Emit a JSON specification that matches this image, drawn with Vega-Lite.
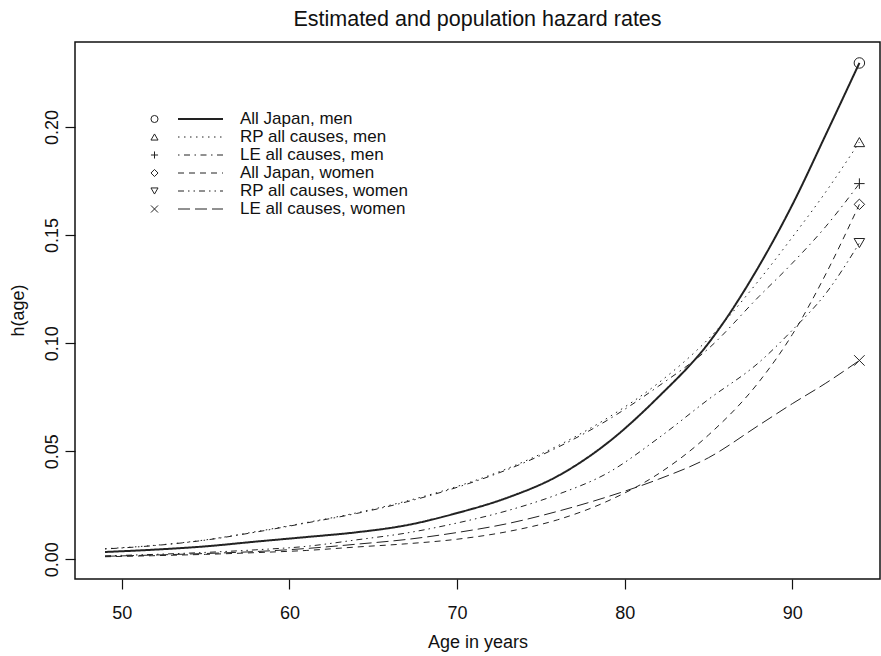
{
  "$schema": "https://vega.github.io/schema/vega-lite/v6.json",
  "width": 805,
  "height": 537,
  "autosize": {"type": "none"},
  "padding": {"left": 75, "top": 42, "right": 1, "bottom": 77},
  "background": "white",
  "config": {
    "font": "Liberation Sans",
    "view": {"stroke": "#111111", "strokeWidth": 1.5},
    "axis": {"grid": false, "domain": false, "tickColor": "#111111", "tickWidth": 1.2, "labelColor": "#111111", "titleColor": "#111111", "labelFontSize": 18, "titleFontSize": 18, "titleFontWeight": "normal"}
  },
  "title": {"text": "Estimated and population hazard rates", "fontSize": 21.5, "fontWeight": "normal", "color": "#111111", "baseline": "alphabetic", "offset": 16, "dy": 21, "anchor": "middle"},
  "data": {"values": [
    {"series": "All Japan, men", "age": 49, "h": 0.0034}, {"series": "All Japan, men", "age": 52, "h": 0.0045}, {"series": "All Japan, men", "age": 55, "h": 0.0060}, {"series": "All Japan, men", "age": 58, "h": 0.0082}, {"series": "All Japan, men", "age": 61, "h": 0.0103}, {"series": "All Japan, men", "age": 64, "h": 0.0125}, {"series": "All Japan, men", "age": 67, "h": 0.0158}, {"series": "All Japan, men", "age": 70, "h": 0.0214}, {"series": "All Japan, men", "age": 73, "h": 0.0285}, {"series": "All Japan, men", "age": 76, "h": 0.0385}, {"series": "All Japan, men", "age": 79, "h": 0.0540}, {"series": "All Japan, men", "age": 82, "h": 0.0750}, {"series": "All Japan, men", "age": 85, "h": 0.1000}, {"series": "All Japan, men", "age": 88, "h": 0.1355}, {"series": "All Japan, men", "age": 90, "h": 0.1640}, {"series": "All Japan, men", "age": 92, "h": 0.1965}, {"series": "All Japan, men", "age": 94, "h": 0.2296},
    {"series": "RP all causes, men", "age": 49, "h": 0.0049}, {"series": "RP all causes, men", "age": 52, "h": 0.0065}, {"series": "RP all causes, men", "age": 55, "h": 0.0090}, {"series": "RP all causes, men", "age": 58, "h": 0.0128}, {"series": "RP all causes, men", "age": 61, "h": 0.0170}, {"series": "RP all causes, men", "age": 64, "h": 0.0215}, {"series": "RP all causes, men", "age": 67, "h": 0.0270}, {"series": "RP all causes, men", "age": 70, "h": 0.0337}, {"series": "RP all causes, men", "age": 73, "h": 0.0420}, {"series": "RP all causes, men", "age": 76, "h": 0.0525}, {"series": "RP all causes, men", "age": 79, "h": 0.0655}, {"series": "RP all causes, men", "age": 82, "h": 0.0815}, {"series": "RP all causes, men", "age": 85, "h": 0.1020}, {"series": "RP all causes, men", "age": 88, "h": 0.1290}, {"series": "RP all causes, men", "age": 90, "h": 0.1490}, {"series": "RP all causes, men", "age": 92, "h": 0.1700}, {"series": "RP all causes, men", "age": 94, "h": 0.1930},
    {"series": "LE all causes, men", "age": 49, "h": 0.0048}, {"series": "LE all causes, men", "age": 52, "h": 0.0064}, {"series": "LE all causes, men", "age": 55, "h": 0.0089}, {"series": "LE all causes, men", "age": 58, "h": 0.0126}, {"series": "LE all causes, men", "age": 61, "h": 0.0168}, {"series": "LE all causes, men", "age": 64, "h": 0.0212}, {"series": "LE all causes, men", "age": 67, "h": 0.0266}, {"series": "LE all causes, men", "age": 70, "h": 0.0333}, {"series": "LE all causes, men", "age": 73, "h": 0.0415}, {"series": "LE all causes, men", "age": 76, "h": 0.0518}, {"series": "LE all causes, men", "age": 79, "h": 0.0645}, {"series": "LE all causes, men", "age": 82, "h": 0.0800}, {"series": "LE all causes, men", "age": 85, "h": 0.0975}, {"series": "LE all causes, men", "age": 88, "h": 0.1215}, {"series": "LE all causes, men", "age": 90, "h": 0.1370}, {"series": "LE all causes, men", "age": 92, "h": 0.1540}, {"series": "LE all causes, men", "age": 94, "h": 0.1738},
    {"series": "All Japan, women", "age": 49, "h": 0.0012}, {"series": "All Japan, women", "age": 52, "h": 0.0017}, {"series": "All Japan, women", "age": 55, "h": 0.0023}, {"series": "All Japan, women", "age": 58, "h": 0.0031}, {"series": "All Japan, women", "age": 61, "h": 0.0041}, {"series": "All Japan, women", "age": 64, "h": 0.0057}, {"series": "All Japan, women", "age": 67, "h": 0.0072}, {"series": "All Japan, women", "age": 70, "h": 0.0093}, {"series": "All Japan, women", "age": 73, "h": 0.0128}, {"series": "All Japan, women", "age": 76, "h": 0.0183}, {"series": "All Japan, women", "age": 79, "h": 0.0270}, {"series": "All Japan, women", "age": 82, "h": 0.0395}, {"series": "All Japan, women", "age": 85, "h": 0.0575}, {"series": "All Japan, women", "age": 88, "h": 0.0820}, {"series": "All Japan, women", "age": 90, "h": 0.1040}, {"series": "All Japan, women", "age": 92, "h": 0.1320}, {"series": "All Japan, women", "age": 94, "h": 0.1642},
    {"series": "RP all causes, women", "age": 49, "h": 0.0016}, {"series": "RP all causes, women", "age": 52, "h": 0.0023}, {"series": "RP all causes, women", "age": 55, "h": 0.0032}, {"series": "RP all causes, women", "age": 58, "h": 0.0044}, {"series": "RP all causes, women", "age": 61, "h": 0.0060}, {"series": "RP all causes, women", "age": 64, "h": 0.0090}, {"series": "RP all causes, women", "age": 67, "h": 0.0122}, {"series": "RP all causes, women", "age": 70, "h": 0.0168}, {"series": "RP all causes, women", "age": 73, "h": 0.0225}, {"series": "RP all causes, women", "age": 76, "h": 0.0300}, {"series": "RP all causes, women", "age": 79, "h": 0.0400}, {"series": "RP all causes, women", "age": 82, "h": 0.0560}, {"series": "RP all causes, women", "age": 85, "h": 0.0740}, {"series": "RP all causes, women", "age": 88, "h": 0.0910}, {"series": "RP all causes, women", "age": 90, "h": 0.1060}, {"series": "RP all causes, women", "age": 92, "h": 0.1230}, {"series": "RP all causes, women", "age": 94, "h": 0.1463},
    {"series": "LE all causes, women", "age": 49, "h": 0.0014}, {"series": "LE all causes, women", "age": 52, "h": 0.0020}, {"series": "LE all causes, women", "age": 55, "h": 0.0027}, {"series": "LE all causes, women", "age": 58, "h": 0.0036}, {"series": "LE all causes, women", "age": 61, "h": 0.0050}, {"series": "LE all causes, women", "age": 64, "h": 0.0070}, {"series": "LE all causes, women", "age": 67, "h": 0.0092}, {"series": "LE all causes, women", "age": 70, "h": 0.0124}, {"series": "LE all causes, women", "age": 73, "h": 0.0165}, {"series": "LE all causes, women", "age": 76, "h": 0.0222}, {"series": "LE all causes, women", "age": 79, "h": 0.0290}, {"series": "LE all causes, women", "age": 82, "h": 0.0370}, {"series": "LE all causes, women", "age": 85, "h": 0.0470}, {"series": "LE all causes, women", "age": 88, "h": 0.0620}, {"series": "LE all causes, women", "age": 90, "h": 0.0720}, {"series": "LE all causes, women", "age": 92, "h": 0.0815}, {"series": "LE all causes, women", "age": 94, "h": 0.0920}
  ]},
  "encoding": {
    "x": {"field": "age", "type": "quantitative", "scale": {"domain": [47.21, 95.23], "nice": false, "zero": false},
          "axis": {"values": [50, 60, 70, 80, 90], "tickSize": 10, "labelPadding": 15, "labelBaseline": "top", "title": "Age in years", "titleY": 68, "titleBaseline": "alphabetic"}},
    "y": {"field": "h", "type": "quantitative", "scale": {"domain": [-0.0091, 0.2393], "nice": false, "zero": false},
          "axis": {"values": [0, 0.05, 0.1, 0.15, 0.2], "format": ".2f", "tickSize": 10, "labelAngle": -90, "labelAlign": "center", "labelBaseline": "alphabetic", "labelPadding": 8, "title": "h(age)", "titleX": -57, "titleY": 268, "titleAngle": -90, "titleAlign": "center", "titleBaseline": "middle"}}
  },
  "layer": [
    {
      "mark": {"type": "line", "interpolate": "monotone", "color": "#222222"},
      "encoding": {
        "strokeDash": {"field": "series", "type": "nominal",
          "scale": {"domain": ["All Japan, men", "RP all causes, men", "LE all causes, men", "All Japan, women", "RP all causes, women", "LE all causes, women"],
                    "range": [[1, 0], [1.5, 4.5], [1.5, 4.5, 6, 4.5], [6, 5], [6, 4, 1.5, 4, 1.5, 4], [12, 5]]},
          "legend": {"orient": "none", "legendX": 102, "legendY": 70, "title": null, "symbolType": "stroke", "symbolSize": 2025, "symbolStrokeColor": "#222222", "labelFontSize": 17, "labelColor": "#111111", "labelLimit": 400, "labelOffset": 16, "clipHeight": 14, "rowPadding": 1, "padding": 0}},
        "strokeWidth": {"field": "series", "type": "nominal",
          "scale": {"type": "ordinal", "domain": ["All Japan, men", "RP all causes, men", "LE all causes, men", "All Japan, women", "RP all causes, women", "LE all causes, women"],
                    "range": [2, 1, 1, 1, 1, 1]},
          "legend": {"orient": "none", "legendX": 102, "legendY": 70, "title": null, "symbolType": "stroke", "symbolSize": 2025, "labelFontSize": 17, "labelLimit": 400, "labelOffset": 16, "clipHeight": 14, "rowPadding": 1, "padding": 0}}
      }
    },
    {
      "transform": [{"filter": "datum.age == 94"}],
      "mark": {"type": "point", "filled": false, "color": "#222222", "strokeWidth": 1, "size": 110, "opacity": 1},
      "encoding": {
        "shape": {"field": "series", "type": "nominal",
          "scale": {"domain": ["All Japan, men", "RP all causes, men", "LE all causes, men", "All Japan, women", "RP all causes, women", "LE all causes, women"],
                    "range": ["circle", "triangle-up", "M-1,0L1,0M0,-1L0,1", "diamond", "triangle-down", "M-1,-1L1,1M-1,1L1,-1"]},
          "legend": {"orient": "top-left", "offset": 70, "symbolOffset": 1, "title": null, "labelExpr": "' '", "labelFontSize": 17, "clipHeight": 14, "rowPadding": 1, "padding": 0, "symbolSize": 50, "symbolStrokeWidth": 1}}
      }
    }
  ]
}
